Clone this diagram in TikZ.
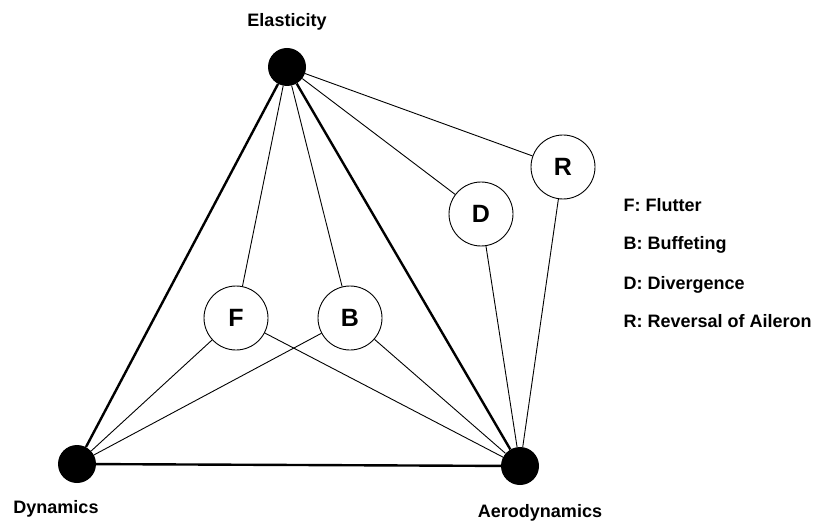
\documentclass[tikz,border=0pt]{standalone}
\usepackage{fontspec}
\setmainfont{Liberation Sans}
\usetikzlibrary{positioning}

\begin{document}
\begin{tikzpicture}[
    x=1pt, y=-1pt, font=\bfseries\fontsize{18}{22}\selectfont,
    field/.style={circle, fill, inner sep=0pt, minimum size=38pt},
    effect/.style={circle, draw, line width=0.9pt, fill=white, inner sep=0pt,
                   minimum size=64pt, font=\bfseries\fontsize{25}{30}\selectfont},
    link/.style={line width=0.9pt},
    axis/.style={line width=2.4pt},
    legend/.style={anchor=base west}
]
    \useasboundingbox (0,0) rectangle (821,521);

    % the three fields
    \node[field] (E) at (287,67) {};
    \node[field] (Dy) at (77,464) {};
    \node[field] (A) at (520,466) {};

    \node[anchor=base] (Elab) at (287,27) {Elasticity};
    \node[anchor=base] (Dylab) at (56,513) {Dynamics};
    \node[anchor=base] (Alab) at (540,517) {Aerodynamics};

    % the phenomena
    \node[effect] (F) at (236,318) {F};
    \node[effect] (B) at (350,318) {B};
    \node[effect] (D) at (481,214) {D};
    \node[effect] (R) at (563,167) {R};

    % legend
    \node[legend] (lF) at (620,212) {F: Flutter};
    \node[legend] (lB) at (620,250) {B: Buffeting};
    \node[legend] (lD) at (620,289) {D: Divergence};
    \node[legend] (lR) at (620,327) {R: Reversal of Aileron};

    \draw[axis] (E) -- (Dy);
    \draw[axis] (E) -- (A);
    \draw[axis] (Dy) -- (A);

    \draw[link] (E) -- (F);
    \draw[link] (E) -- (B);
    \draw[link] (E) -- (D);
    \draw[link] (E) -- (R);
    \draw[link] (F) -- (Dy);
    \draw[link] (F) -- (A);
    \draw[link] (B) -- (Dy);
    \draw[link] (B) -- (A);
    \draw[link] (D) -- (A);
    \draw[link] (R) -- (A);
\end{tikzpicture}
\end{document}
